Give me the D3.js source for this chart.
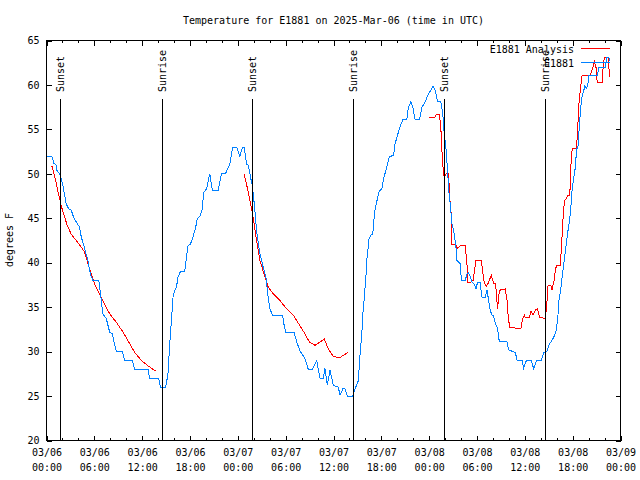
<!DOCTYPE html>
<html><head><meta charset="utf-8">
<script src="https://cdn.jsdelivr.net/npm/d3@7"></script>
<style>
body{margin:0;background:#fff}
svg{display:block}
text{font-family:"DejaVu Sans Mono","Liberation Mono",monospace;font-size:10px;fill:#000}
</style>
</head><body>
<svg id="chart" width="640" height="480"></svg>
<script>
// ---- data (hours since 2025-03-06 00:00 UTC) ----
const obsHours = [0,0.67,0.92,1.22,1.29,1.72,2.05,2.48,2.76,3.10,
3.43,3.73,4.15,4.36,4.78,5.19,5.49,5.82,6.57,6.87,
7.07,7.50,7.92,8.26,8.42,8.76,9.51,9.80,10.77,11.06,
12.73,12.94,14.07,14.29,14.95,15.24,15.46,15.67,15.87,16.08,
16.30,16.50,16.80,17.34,17.55,17.76,18.06,18.38,18.72,18.89,
19.23,19.51,19.73,20.07,20.48,20.82,21.53,21.95,22.49,23.00,
23.34,23.84,24.25,24.59,24.79,25.09,25.30,25.60,25.85,26.14,
26.35,26.77,27.18,27.52,27.81,28.02,28.36,29.62,29.78,30.03,
31.08,31.38,31.79,32.42,32.84,33.34,33.89,34.31,34.72,34.93,
35.22,35.56,35.98,36.60,36.82,37.16,37.45,37.74,38.41,38.70,
39.12,39.33,39.55,39.67,39.83,39.96,40.09,40.17,40.46,40.71,
40.93,41.13,41.30,41.56,41.76,42.06,42.26,42.69,43.01,43.52,
43.73,44.02,44.27,44.70,45.20,45.40,45.70,45.95,46.24,46.78,
47.09,47.50,47.91,48.22,48.47,48.76,49.05,49.47,49.72,49.89,
50.14,50.30,50.48,50.64,50.86,51.15,51.40,51.48,51.90,51.99,
52.11,52.53,52.74,52.94,53.16,53.37,53.66,53.87,54.07,54.41,
54.50,54.63,55.04,55.26,55.46,55.67,55.88,56.08,56.30,56.58,
56.80,57.77,57.97,58.81,59.02,59.65,59.85,60.19,60.78,61.11,
61.45,62.08,62.36,62.79,62.99,63.62,63.96,64.17,64.25,64.46,
64.90,65.38,65.60,65.73,65.94,66.36,66.48,66.65,66.77,66.90,
67.08,67.20,67.40,67.53,67.74,67.91,68.03,69.09,69.29,70.12,
70.25,70.54,70.66];
const obsTemps = [52,52,51.2,51,50.4,49.9,48.7,46.6,46.1,45.9,
45.05,44.6,44,42.9,41.6,40.25,38.75,38,38,35.75,
34.25,33.7,32.2,32,31.25,30,30,29,29,28,
28,27,27,26,26,27.5,30.9,33.5,36.1,36.9,
37.25,38.4,39,39,40.6,41.9,42.1,42.9,44,44.9,
45.2,45.9,47.9,48.3,50,48.1,48.1,50,50.1,51.1,
53,53,52,53,53,51.1,51,49.6,48.5,45.9,
43.6,41,39.5,38.4,36.1,34.8,34.1,34.1,33.1,32.1,
32.1,31.1,30.1,29.2,28,28,29,27,27,28.1,
26.2,27.9,26.2,26,25.1,25.8,25.8,25,25,25.8,
26.75,29.75,32,34.1,35.75,37.25,38.75,40.25,42.7,43.1,
43.25,45.5,46.4,47.4,48.1,48.3,49.4,50.75,51.95,52.06,
53.4,54.3,55.1,56.1,56.1,57.5,58.1,57.5,56.1,56.1,
57.5,58.1,59,59.4,59.9,59.4,58.1,58.1,56.6,54.5,
52.6,50.4,47.9,46.6,44.4,43.2,41.4,40.25,39.9,38.6,
38,38,38.75,38.9,38.4,37.8,37.6,37.05,37.8,37.8,
36.9,36.1,36.1,36.9,35.75,34.6,34.1,34,33.2,32.6,
31.1,31.1,30.2,29.9,29.05,29,28.1,29,29,28.1,
29,29,29.9,30.05,30.7,31.6,32.4,34.25,35.6,36.7,
40,43.4,44.75,45.7,48.3,50.9,52.8,52.8,54.4,56.2,
58.1,58.8,59.4,59.9,59.6,60.1,61.1,61.1,62,62,
63.1,63.1,62.75];

// analysis series: null marks a gap between runs
const anaHours = [0.67,1.01,1.42,1.85,2.14,2.60,3.10,3.73,4.36,4.78,5.40,6.03,6.87,7.92,8.76,9.59,10.43,11.06,11.90,12.73,13.70,
null,
24.79,25.17,25.51,25.85,26.35,26.77,27.40,27.81,28.44,29.28,30.13,30.96,31.79,32.42,32.96,33.68,34.85,35.35,35.98,36.74,37.79,
null,
48.04,48.67,48.88,49.30,49.51,49.67,49.89,50.14,50.43,50.64,
50.77,50.86,51.28,51.56,51.90,52.53,52.74,52.82,53.16,53.50,
53.78,53.87,54.54,54.75,54.91,55.16,55.46,55.79,56.08,56.33,
56.42,56.58,56.80,57.55,57.77,57.89,58.09,59.52,59.72,59.94,
60.06,60.57,60.78,61.03,61.32,61.61,61.82,62.58,62.79,62.91,
63.29,63.41,63.71,63.83,64.04,64.46,64.80,64.97,65.22,65.38,
65.63,65.72,65.81,65.94,66.48,66.65,66.77,66.98,67.19,68.23,
68.52,68.73,68.95,69.07,69.70,69.82,69.98,70.45,70.58,70.66];
const anaTemps = [50.9,49.8,48.1,46.4,45.5,44.2,43.2,42.5,41.75,41.2,39.3,37.6,36.1,34.25,33.3,32.2,30.9,29.9,29,28.4,27.8,
null,
50,48.5,47,45.5,42.5,40.25,38.4,37.25,36.5,35.75,34.8,34.1,32.9,32,31.1,30.7,31.4,30.3,29.45,29.3,29.9,
null,
56.3,56.3,56.7,56.7,54.5,51.3,49.6,50,50,46.6,
45.5,42.1,42.1,41.6,41.9,41.9,39.9,37.8,37.8,38,
39.7,40.3,40.3,38.75,37.8,37.3,37.8,38.6,37.7,37.7,
36.6,34.8,36.9,37.05,35.75,34.25,32.7,32.6,33.7,34.1,
33.8,33.8,34.6,34.1,34.7,34.8,33.9,33.7,35.75,37.4,
37.4,36.9,38.2,39.3,39.7,39.7,45.1,47,47.2,47.6,
47.6,49.1,51.5,52.8,52.8,55.4,57.7,59.6,61.1,61.1,
61.9,62.6,61.9,60.3,60.3,62,63.1,63.1,61.5,60.9];

const sunLabels = ["Sunset","Sunrise","Sunset","Sunrise","Sunset","Sunrise"];
const sunHours  = [1.67,14.49,25.80,38.49,49.80,62.49];

const yTicks = [20,25,30,35,40,45,50,55,60,65];
const xMajorHours = [0,6,12,18,24,30,36,42,48,54,60,66,72];
const xMinorHours = [2,4,8,10,14,16,20,22,26,28,32,34,38,40,44,46,50,52,56,58,62,64,68,70];

const seriesNames = ["E1881 Analysis","E1881"];
const seriesColors = ["#ff0000","#0080ff"];
const titleText = "Temperature for E1881 on 2025-Mar-06 (time in UTC)";
const yLabelText = "degrees F";

// ---- layout ----
const L = 46.5, R = 620.5, T = 40.5, B = 440.5;
const t0 = Date.UTC(2025, 2, 6);
const toDate = h => new Date(t0 + h * 3600e3);
const fmtDay = d3.utcFormat("%m/%d"), fmtTime = d3.utcFormat("%H:%M");

const x = d3.scaleUtc().domain([toDate(0), toDate(72)]).range([L, R]);
const y = d3.scaleLinear().domain([20, 65]).range([B, T]);

const svg = d3.select("#chart");
svg.append("rect").attr("width", 640).attr("height", 480).attr("fill", "#fff");

// title
svg.append("text").attr("x", (L + R) / 2).attr("y", 24).attr("text-anchor", "middle").text(titleText);

// y label
svg.append("text").attr("transform", "translate(12.5,240) rotate(-90)")
  .attr("text-anchor", "middle").text(yLabelText);

const majorDates = xMajorHours.map(toDate), minorDates = xMinorHours.map(toDate);
const clean = g => { g.select(".domain").remove(); g.selectAll(".tick line").attr("stroke", "#000").attr("shape-rendering", "crispEdges"); };

// bottom axis
const gB = svg.append("g").attr("transform", `translate(0,${B})`)
  .call(d3.axisBottom(x).tickValues(majorDates).tickSizeInner(-5).tickSizeOuter(0).tickFormat(""))
  .call(clean);
gB.selectAll(".tick text").remove();
gB.selectAll(".tick").append("text").attr("text-anchor", "middle")
  .each(function(d) {
    const t = d3.select(this);
    t.append("tspan").attr("x", 0).attr("y", 15.5).text(fmtDay(d));
    t.append("tspan").attr("x", 0).attr("y", 30).text(fmtTime(d));
  });
svg.append("g").attr("transform", `translate(0,${B})`)
  .call(d3.axisBottom(x).tickValues(minorDates).tickSizeInner(-2.5).tickSizeOuter(0).tickFormat(""))
  .call(clean);
// top axis
svg.append("g").attr("transform", `translate(0,${T})`)
  .call(d3.axisTop(x).tickValues(majorDates).tickSizeInner(-5).tickSizeOuter(0).tickFormat(""))
  .call(clean);
svg.append("g").attr("transform", `translate(0,${T})`)
  .call(d3.axisTop(x).tickValues(minorDates).tickSizeInner(-2.5).tickSizeOuter(0).tickFormat(""))
  .call(clean);
// left axis
const gL = svg.append("g").attr("transform", `translate(${L},0)`)
  .call(d3.axisLeft(y).tickValues(yTicks).tickSizeInner(-5).tickSizeOuter(0).tickPadding(7))
  .call(clean);
gL.attr("font-family", null).attr("font-size", null);
gL.selectAll(".tick text").attr("fill", "#000");
// right axis
svg.append("g").attr("transform", `translate(${R},0)`)
  .call(d3.axisRight(y).tickValues(yTicks).tickSizeInner(-5).tickSizeOuter(0).tickFormat(""))
  .call(clean);

// frame
svg.append("rect").attr("x", L).attr("y", T).attr("width", R - L).attr("height", B - T)
  .attr("fill", "none").attr("stroke", "#000").attr("shape-rendering", "crispEdges");

// series
const ana = anaHours.map((h, i) => ({h, v: anaTemps[i]}));
const obs = obsHours.map((h, i) => ({h, v: obsTemps[i]}));
const line = d3.line().defined(d => d.h != null && d.v != null)
  .x(d => x(toDate(d.h))).y(d => y(d.v));
svg.append("path").datum(ana).attr("d", line).attr("fill", "none")
  .attr("stroke", seriesColors[0]).attr("stroke-width", 1).attr("shape-rendering", "crispEdges");
svg.append("path").datum(obs).attr("d", line).attr("fill", "none")
  .attr("stroke", seriesColors[1]).attr("stroke-width", 1).attr("shape-rendering", "crispEdges");

// sunrise / sunset markers
const sun = svg.append("g");
sunHours.forEach((h, i) => {
  const sx = Math.round(x(toDate(h))) + 0.5;
  sun.append("line").attr("x1", sx).attr("x2", sx).attr("y1", 99).attr("y2", B)
    .attr("stroke", "#000").attr("stroke-width", 1).attr("shape-rendering", "crispEdges");
  sun.append("text").attr("transform", `translate(${sx + 3.5},92) rotate(-90)`)
    .attr("text-anchor", "start").text(sunLabels[i]);
});

// legend
const lg = svg.append("g");
[48.5, 62.5].forEach((ly, i) => {
  lg.append("text").attr("x", 574).attr("y", ly + 4).attr("text-anchor", "end").text(seriesNames[i]);
  lg.append("line").attr("x1", 581).attr("x2", 610).attr("y1", ly).attr("y2", ly)
    .attr("stroke", seriesColors[i]).attr("stroke-width", 1).attr("shape-rendering", "crispEdges");
});
</script>
</body></html>
